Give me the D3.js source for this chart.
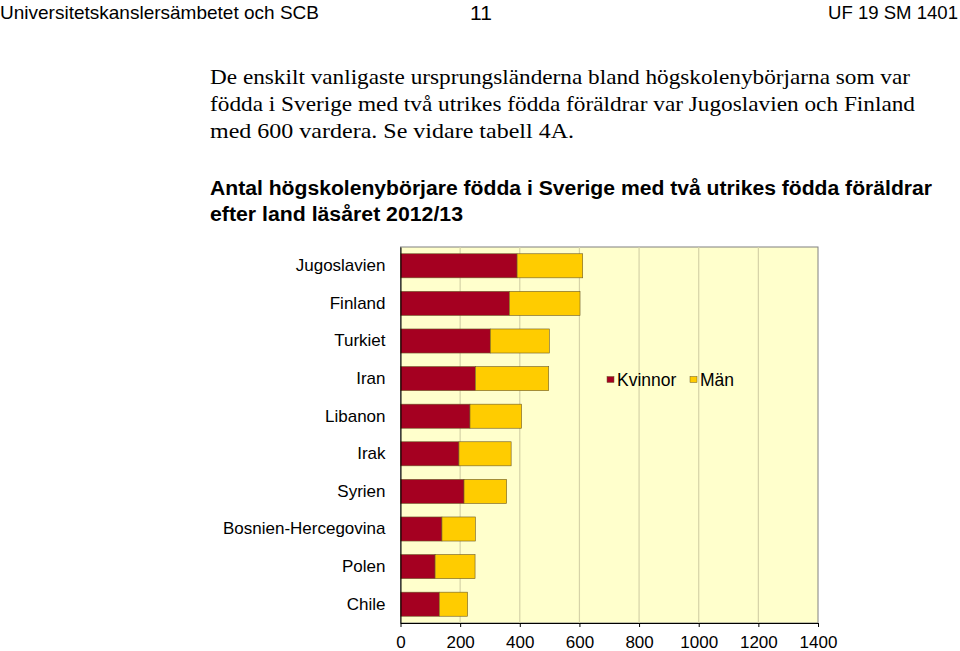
<!DOCTYPE html>
<html><head><meta charset="utf-8">
<script src="https://cdn.jsdelivr.net/npm/d3@7"></script>
<style>
body{margin:0;background:#fff;}
svg{display:block;}
</style></head>
<body>
<svg id="c" width="960" height="651"></svg>
<script>
const categories = ["Jugoslavien","Finland","Turkiet","Iran","Libanon","Irak","Syrien","Bosnien-Hercegovina","Polen","Chile"];
const kvinnor = [391, 365, 301, 251, 233, 196, 213, 139, 116, 130];
const man = [220, 237, 198, 246, 173, 175, 143, 112, 134, 95];
const seriesNames = ["Kvinnor","Män"];
const xTicks = [0,200,400,600,800,1000,1200,1400];
const headerLeft = "Universitetskanslersämbetet och SCB";
const headerMid = "11";
const headerRight = "UF 19 SM 1401";
const paragraph = ["De enskilt vanligaste ursprungsländerna bland högskolenybörjarna som var",
  "födda i Sverige med två utrikes födda föräldrar var Jugoslavien och Finland",
  "med 600 vardera. Se vidare tabell 4A."];
const title = ["Antal högskolenybörjare födda i Sverige med två utrikes födda föräldrar",
  "efter land läsåret 2012/13"];

const colors = ["#A50021","#FFCC00"];
const svg = d3.select("#c");
const sans = "'Liberation Sans', Arial, sans-serif";
const serif = "'Liberation Serif', 'Times New Roman', serif";

// header
svg.append("text").attr("x",0).attr("y",19).attr("font-family",sans).attr("font-size",19)
  .attr("textLength",319).attr("lengthAdjust","spacingAndGlyphs").text(headerLeft);
svg.append("text").attr("x",481).attr("y",20).attr("text-anchor","middle").attr("font-family",sans).attr("font-size",21).text(headerMid);
svg.append("text").attr("x",958).attr("y",19).attr("text-anchor","end").attr("font-family",sans).attr("font-size",19)
  .attr("textLength",130).attr("lengthAdjust","spacingAndGlyphs").text(headerRight);

// paragraph
const paraLen = [700, 705, 364];
paragraph.forEach((t,i)=>{
  svg.append("text").attr("x",210).attr("y",84+i*27).attr("font-family",serif).attr("font-size",22)
    .attr("textLength",paraLen[i]).attr("lengthAdjust","spacingAndGlyphs").text(t);
});
// title
const titleLen = [722, 253];
title.forEach((t,i)=>{
  svg.append("text").attr("x",210).attr("y",195+i*26).attr("font-family",sans).attr("font-weight","bold").attr("font-size",20)
    .attr("textLength",titleLen[i]).attr("lengthAdjust","spacingAndGlyphs").text(t);
});

const pLeft=400.5, pRight=818, pTop=247, pBottom=623;
const x = d3.scaleLinear().domain([0,1400]).range([pLeft,pRight]);
const y = d3.scaleBand().domain(categories).range([pTop,pBottom]).paddingInner(0.36).paddingOuter(0.18);

// plot background
svg.append("rect").attr("x",pLeft).attr("y",pTop).attr("width",pRight-pLeft).attr("height",pBottom-pTop)
  .attr("fill","#FFFFCC").attr("stroke","#808080").attr("stroke-width",1);

// gridlines
svg.append("g").selectAll("line").data(xTicks.slice(1,-1)).join("line")
  .attr("x1",d=>x(d)).attr("x2",d=>x(d)).attr("y1",pTop).attr("y2",pBottom)
  .attr("stroke","#D6D3A8").attr("stroke-width",1.2);

// bars
const stackData = categories.map((c,i)=>({cat:c, Kvinnor:kvinnor[i], "Män":man[i]}));
const stack = d3.stack().keys(seriesNames)(stackData);
svg.append("g").selectAll("g").data(stack).join("g")
  .attr("fill",(d,i)=>colors[i])
  .selectAll("rect").data(d=>d).join("rect")
  .attr("x",d=>x(d[0])).attr("width",d=>x(d[1])-x(d[0]))
  .attr("y",d=>y(d.data.cat)).attr("height",y.bandwidth())
  .attr("stroke","#6b5a2a").attr("stroke-width",0.6);

// x axis
const xa = svg.append("g").attr("transform",`translate(0,${pBottom})`)
  .call(d3.axisBottom(x).tickValues(xTicks).tickFormat(d3.format("d")).tickSize(4).tickPadding(9).tickSizeOuter(0));
xa.select(".domain").attr("stroke","#000");
xa.selectAll("text").attr("font-family",sans).attr("font-size",17).attr("fill","#000");

// y axis
const ya = svg.append("g").attr("transform",`translate(${pLeft},0)`)
  .call(d3.axisLeft(y).tickSize(0).tickPadding(15).tickSizeOuter(0));
ya.select(".domain").attr("stroke","#000");
ya.selectAll("text").attr("font-family",sans).attr("font-size",17).attr("fill","#000");

// legend
const lg = svg.append("g");
const lx=[607,690], ltx=[617,700];
seriesNames.forEach((n,i)=>{
  lg.append("rect").attr("x",lx[i]).attr("y",376.5).attr("width",7).attr("height",6)
    .attr("fill",colors[i]).attr("stroke","#6b5a2a").attr("stroke-width",0.5);
  lg.append("text").attr("x",ltx[i]).attr("y",386).attr("font-family",sans).attr("font-size",17.5).text(n);
});
</script>
</body></html>
